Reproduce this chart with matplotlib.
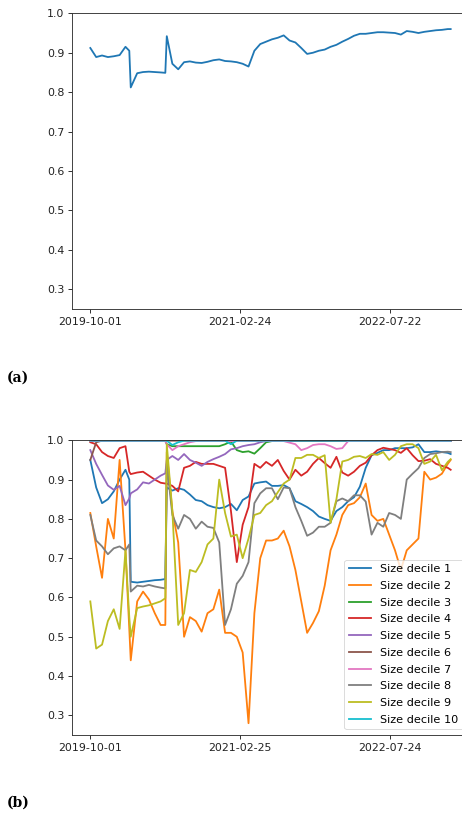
import matplotlib
matplotlib.use("Agg")
import matplotlib.pyplot as plt

# day offsets from 2019-10-01
days = [0, 20, 40, 60, 80, 100, 120, 133, 138, 160, 180, 200, 220, 240, 256, 261,
        280, 300, 320, 340, 360, 380, 400, 420, 440, 460, 480, 500, 520, 540, 560, 580,
        600, 620, 640, 660, 680, 700, 720, 740, 760, 780, 800, 820, 840, 860, 880, 900,
        920, 940, 960, 980, 1000, 1020, 1040, 1060, 1080, 1100, 1120, 1140, 1160, 1180,
        1200, 1220, 1230]

tick_days = [0, 512, 1024]
tick_labels_a = ["2019-10-01", "2021-02-24", "2022-07-22"]
tick_labels_b = ["2019-10-01", "2021-02-25", "2022-07-24"]

overall = [0.912, 0.889, 0.893, 0.889, 0.891, 0.894, 0.915, 0.905, 0.812, 0.848,
           0.851, 0.852, 0.851, 0.850, 0.849, 0.942, 0.872, 0.858, 0.876, 0.878,
           0.875, 0.874, 0.877, 0.881, 0.883, 0.879, 0.878, 0.876, 0.872, 0.865,
           0.905, 0.922, 0.928, 0.934, 0.938, 0.944, 0.931, 0.926, 0.912, 0.897,
           0.900, 0.905, 0.908, 0.915, 0.920, 0.928, 0.935, 0.943, 0.948, 0.948,
           0.950, 0.952, 0.952, 0.951, 0.950, 0.946, 0.955, 0.953, 0.950, 0.953,
           0.955, 0.957, 0.958, 0.960, 0.960]

d1 = [0.95, 0.88, 0.84, 0.85, 0.87, 0.9, 0.925, 0.9, 0.64, 0.638,
      0.64, 0.642, 0.644, 0.645, 0.647, 0.88, 0.872, 0.878, 0.874, 0.862,
      0.848, 0.845, 0.835, 0.83, 0.827, 0.83, 0.838, 0.822, 0.848, 0.857,
      0.89, 0.893, 0.895, 0.884, 0.884, 0.886, 0.878, 0.845, 0.838, 0.83,
      0.82, 0.806, 0.8, 0.795, 0.82, 0.83, 0.845, 0.855, 0.882, 0.93,
      0.962, 0.968, 0.975, 0.975, 0.98, 0.98, 0.98, 0.982, 0.99, 0.97,
      0.97, 0.972, 0.97, 0.968, 0.965]
d2 = [0.815, 0.73, 0.65, 0.8, 0.75, 0.95, 0.72, 0.52, 0.44, 0.59,
      0.615, 0.595, 0.56, 0.53, 0.53, 0.97, 0.82, 0.74, 0.5, 0.55,
      0.54, 0.513, 0.56, 0.57, 0.62, 0.51, 0.51, 0.5, 0.46, 0.28,
      0.56, 0.7, 0.745, 0.745, 0.75, 0.77, 0.73, 0.67, 0.59, 0.51,
      0.535, 0.565, 0.63, 0.72, 0.76, 0.81, 0.835, 0.84, 0.855, 0.89,
      0.81, 0.795, 0.8, 0.76, 0.72, 0.67, 0.72, 0.735, 0.75, 0.92,
      0.9, 0.905, 0.915, 0.94, 0.95]
d3 = [0.998, 0.998, 0.998, 0.998, 0.998, 0.998, 0.998, 0.998, 0.998, 0.998,
      0.998, 0.998, 0.998, 0.998, 0.998, 0.99, 0.985, 0.985, 0.985, 0.985,
      0.985, 0.985, 0.985, 0.985, 0.985, 0.99, 0.997, 0.975, 0.97, 0.972,
      0.966, 0.98, 0.995, 0.998, 0.998, 0.998, 0.998, 0.998, 0.998, 0.998,
      0.998, 0.998, 0.998, 0.998, 0.998, 0.998, 0.998, 0.998, 0.998, 0.998,
      0.998, 0.998, 0.998, 0.998, 0.998, 0.998, 0.998, 0.998, 0.998, 0.998,
      0.998, 0.998, 0.998, 0.998, 0.998]
d4 = [0.995, 0.99, 0.97, 0.96, 0.955, 0.98, 0.985, 0.92, 0.914, 0.918,
      0.92, 0.91, 0.9, 0.892, 0.89, 0.89, 0.884, 0.87, 0.93, 0.935,
      0.945, 0.94, 0.94, 0.94, 0.935, 0.93, 0.82, 0.69, 0.785, 0.83,
      0.94, 0.93, 0.945, 0.935, 0.95, 0.922, 0.9, 0.925, 0.91, 0.92,
      0.94, 0.955, 0.942, 0.93, 0.958, 0.918, 0.91, 0.92, 0.935, 0.943,
      0.962, 0.975, 0.981, 0.978, 0.975, 0.968, 0.98, 0.962, 0.947, 0.948,
      0.952, 0.94, 0.935, 0.93, 0.925]
d5 = [0.975, 0.94, 0.912, 0.885, 0.874, 0.884, 0.835, 0.852, 0.865, 0.875,
      0.893, 0.89, 0.9, 0.91, 0.916, 0.95, 0.96, 0.95, 0.965, 0.95,
      0.943, 0.935, 0.945, 0.952, 0.958, 0.965, 0.977, 0.98, 0.985, 0.988,
      0.99, 0.995, 0.998, 0.998, 0.998, 0.998, 0.998, 0.998, 0.998, 0.998,
      0.998, 0.998, 0.998, 0.998, 0.998, 0.998, 0.998, 0.998, 0.998, 0.998,
      0.998, 0.998, 0.998, 0.998, 0.998, 0.998, 0.998, 0.998, 0.998, 0.998,
      0.998, 0.998, 0.998, 0.998, 0.998]
d6 = [0.95, 0.995, 0.999, 0.999, 0.999, 0.999, 0.999, 0.999, 0.999, 0.999,
      0.999, 0.999, 0.999, 0.999, 0.999, 0.999, 0.999, 0.999, 0.999, 0.999,
      0.999, 0.999, 0.999, 0.999, 0.999, 0.999, 0.999, 0.999, 0.999, 0.999,
      0.999, 0.999, 0.999, 0.999, 0.999, 0.999, 0.999, 0.999, 0.999, 0.999,
      0.999, 0.999, 0.999, 0.999, 0.999, 0.999, 0.999, 0.999, 0.999, 0.999,
      0.999, 0.999, 0.999, 0.999, 0.999, 0.999, 0.999, 0.999, 0.999, 0.999,
      0.999, 0.999, 0.999, 0.999, 0.999]
d7 = [0.998, 0.998, 0.998, 0.998, 0.998, 0.998, 0.998, 0.998, 0.998, 0.998,
      0.998, 0.998, 0.998, 0.998, 0.998, 0.99, 0.975, 0.985, 0.99, 0.995,
      0.998, 0.998, 0.998, 0.998, 0.998, 0.998, 0.998, 0.998, 0.998, 0.998,
      0.998, 0.998, 0.998, 0.998, 0.998, 0.998, 0.994, 0.99, 0.975, 0.98,
      0.988, 0.99, 0.99, 0.985, 0.978, 0.98, 0.998, 0.998, 0.998, 0.998,
      0.998, 0.998, 0.998, 0.998, 0.998, 0.998, 0.998, 0.998, 0.998, 0.998,
      0.998, 0.998, 0.998, 0.998, 0.998]
d8 = [0.81, 0.745, 0.73, 0.71, 0.725, 0.73, 0.72, 0.735, 0.615, 0.63,
      0.628, 0.632, 0.628, 0.625, 0.623, 0.94, 0.81, 0.775, 0.81, 0.8,
      0.775, 0.793, 0.78, 0.777, 0.74, 0.53, 0.57, 0.635, 0.655, 0.69,
      0.84, 0.865, 0.878, 0.878, 0.85, 0.88, 0.878, 0.83, 0.795, 0.757,
      0.765, 0.78, 0.78, 0.79, 0.845, 0.852, 0.845, 0.86, 0.86, 0.844,
      0.76, 0.79, 0.78, 0.815, 0.81, 0.8, 0.9, 0.915, 0.929, 0.955,
      0.965, 0.967, 0.97, 0.971, 0.97]
d9 = [0.59, 0.47, 0.48, 0.54, 0.57, 0.52, 0.72, 0.55, 0.5, 0.573,
      0.577, 0.58, 0.585, 0.59, 0.598, 0.99, 0.82, 0.53, 0.56, 0.67,
      0.665, 0.69, 0.735, 0.75, 0.9, 0.815, 0.755, 0.76, 0.7, 0.75,
      0.81, 0.815, 0.835, 0.845, 0.868, 0.89, 0.9, 0.955, 0.955, 0.963,
      0.963, 0.955, 0.962, 0.79, 0.85, 0.946, 0.95, 0.958, 0.96, 0.955,
      0.965, 0.963, 0.97, 0.95, 0.963, 0.985, 0.99, 0.99, 0.98, 0.94,
      0.946, 0.963, 0.924, 0.945, 0.952]
d10 = [0.999, 0.999, 0.999, 0.999, 0.999, 0.999, 0.999, 0.999, 0.999, 0.999,
       0.999, 0.999, 0.999, 0.999, 0.999, 0.999, 0.988, 0.995, 0.999, 0.999,
       0.999, 0.999, 0.999, 0.999, 0.999, 0.999, 0.99, 0.999, 0.999, 0.999,
       0.999, 0.999, 0.999, 0.999, 0.999, 0.999, 0.999, 0.999, 0.999, 0.999,
       0.999, 0.999, 0.999, 0.999, 0.999, 0.999, 0.999, 0.999, 0.999, 0.999,
       0.999, 0.999, 0.999, 0.999, 0.999, 0.999, 0.999, 0.999, 0.999, 0.999,
       0.999, 0.999, 0.999, 0.999, 0.999]

deciles = [d1, d2, d3, d4, d5, d6, d7, d8, d9, d10]
labels = ["Size decile 1", "Size decile 2", "Size decile 3", "Size decile 4",
          "Size decile 5", "Size decile 6", "Size decile 7", "Size decile 8",
          "Size decile 9", "Size decile 10"]

W, H = 462, 813
fig = plt.figure(figsize=(W / 100, H / 100), dpi=100)

fs = 7.9
lw = 1.3
ax_left = 72.3 / W
ax_w = 396.4 / W


def style(ax, tlabels):
    ax.set_ylim(0.25, 1.0)
    ax.set_yticks([0.3, 0.4, 0.5, 0.6, 0.7, 0.8, 0.9, 1.0])
    ax.set_xticks(tick_days)
    ax.set_xticklabels(tlabels)
    ax.tick_params(labelsize=fs, length=2.8, width=0.65, pad=2.8, colors="#222222")
    for s in ax.spines.values():
        s.set_linewidth(0.65)
        s.set_color("#333333")


ax1 = fig.add_axes([ax_left, 1 - 309 / H, ax_w, (309 - 13.3) / H])
ax1.plot(days, overall, color="#1f77b4", lw=lw)
ax1.margins(x=0.05)
style(ax1, tick_labels_a)

ax2 = fig.add_axes([ax_left, 1 - 735 / H, ax_w, (735 - 440.3) / H])
for vals, lab in zip(deciles, labels):
    ax2.plot(days, vals, lw=lw, label=lab)
ax2.margins(x=0.05)
style(ax2, tick_labels_b)
leg = ax2.legend(loc="lower right", fontsize=8.1, labelspacing=0.6, framealpha=0.8)
leg.get_frame().set_linewidth(0.6)

fig.text(7 / W, 1 - 378 / H, "(a)", family="DejaVu Serif", weight="bold",
         fontsize=10, va="center", ha="left")
fig.text(7 / W, 1 - 803 / H, "(b)", family="DejaVu Serif", weight="bold",
         fontsize=10, va="center", ha="left")

fig.savefig("out.png", dpi=100)
